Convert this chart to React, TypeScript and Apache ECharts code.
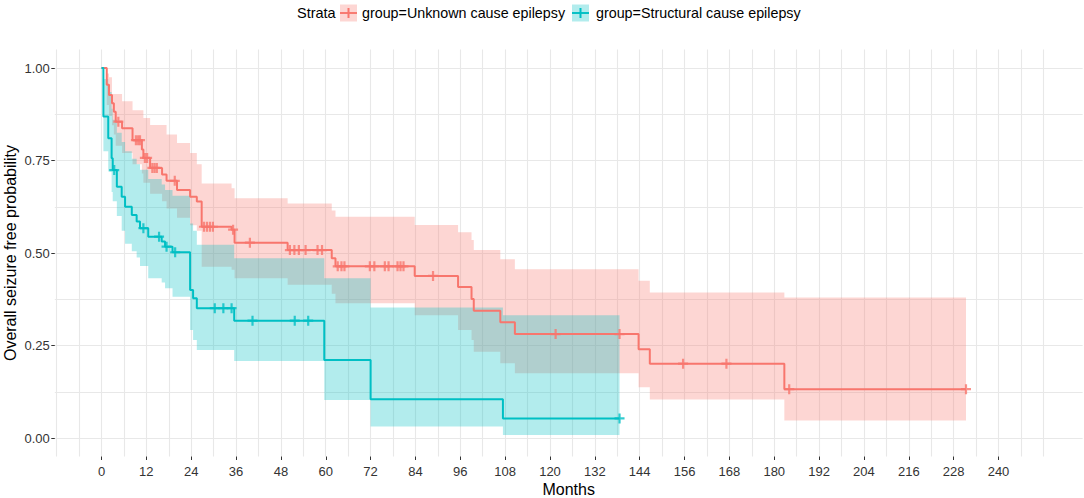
import React, { useEffect, useRef } from 'react';
import * as echarts from 'echarts';

// ---- Data (Kaplan-Meier steps) ----
const redName = 'group=Unknown cause epilepsy';
const tealName = 'group=Structural cause epilepsy';

const redTime = [0, 1.4, 2.0, 2.8, 3.3, 3.8, 5.5, 8.3, 10.8, 11.2, 13.0, 16.2, 17.4, 20.2, 23.7, 25.5, 26.8, 34.8, 35.6, 49.8, 61.6, 62.6, 83.8, 95.4, 99.0, 99.6, 106.7, 110.6, 143.7, 146.7, 182.7, 231.3];
const redSurv = [1, 0.955, 0.927, 0.905, 0.882, 0.855, 0.837, 0.805, 0.78, 0.757, 0.73, 0.712, 0.695, 0.67, 0.652, 0.639, 0.571, 0.563, 0.528, 0.508, 0.486, 0.464, 0.438, 0.408, 0.376, 0.344, 0.313, 0.281, 0.24, 0.201, 0.132, 0.132];
const redUpper = [1, 0.985, 0.975, 0.93, 0.93, 0.93, 0.91, 0.886, 0.886, 0.865, 0.846, 0.846, 0.82, 0.797, 0.77, 0.74, 0.688, 0.675, 0.648, 0.634, 0.615, 0.598, 0.576, 0.556, 0.535, 0.508, 0.483, 0.456, 0.425, 0.393, 0.38, 0.38];
const redLower = [1, 0.9, 0.87, 0.845, 0.82, 0.79, 0.77, 0.74, 0.715, 0.69, 0.66, 0.64, 0.62, 0.595, 0.575, 0.56, 0.463, 0.455, 0.432, 0.414, 0.39, 0.364, 0.332, 0.292, 0.265, 0.233, 0.202, 0.175, 0.137, 0.104, 0.047, 0.047];
const redCensor = [4.5, 9.2, 9.8, 10.3, 11.6, 12.2, 13.6, 14.2, 14.8, 19.6, 27.4, 28.2, 29.0, 29.8, 35.2, 39.7, 50.4, 51.6, 52.8, 54.6, 57.8, 59.0, 63.2, 64.2, 65.0, 71.8, 73.0, 75.8, 76.8, 79.2, 80.0, 80.8, 88.7, 121.5, 138.6, 155.6, 167.2, 184.0, 231.3];

const tealTime = [0, 0.5, 1.8, 2.7, 3.0, 4.1, 5.4, 6.3, 8.1, 9.4, 10.3, 12.5, 16.1, 17.0, 19.0, 23.7, 24.5, 25.5, 35.5, 59.6, 72.0, 107.4, 138.6];
const tealSurv = [1, 0.869, 0.81, 0.756, 0.724, 0.679, 0.652, 0.625, 0.603, 0.585, 0.567, 0.544, 0.531, 0.517, 0.502, 0.4, 0.378, 0.351, 0.317, 0.211, 0.105, 0.053, 0.053];
const tealUpper = [1, 0.97, 0.935, 0.89, 0.86, 0.825, 0.8, 0.775, 0.755, 0.74, 0.725, 0.7, 0.685, 0.67, 0.655, 0.58, 0.56, 0.522, 0.486, 0.432, 0.353, 0.332, 0.332];
const tealLower = [1, 0.775, 0.72, 0.665, 0.64, 0.6, 0.56, 0.525, 0.505, 0.488, 0.465, 0.432, 0.42, 0.405, 0.382, 0.292, 0.265, 0.238, 0.208, 0.103, 0.031, 0.008, 0.008];
const tealCensor = [3.4, 11.2, 15.4, 17.4, 19.7, 30.3, 32.6, 34.8, 40.4, 51.7, 55.3, 138.6];

const xTickMin = 0;
const xTickMax = 240;
const xTickStep = 12;
const yTickStep = 0.25;

const RED = '#F8766D';
const TEAL = '#00BFC4';
const FONT = '"Liberation Sans", Arial, sans-serif';

const PLUS = 'path://M3.9,0H6.1V3.9H10V6.1H6.1V10H3.9V6.1H0V3.9H3.9Z';

function stepAt(times: number[], vals: number[], t: number) {
  let v = vals[0];
  for (let i = 0; i < times.length; i++) {
    if (times[i] <= t) v = vals[i];
    else break;
  }
  return v;
}

function ribbon(name: string, times: number[], lower: number[], upper: number[], fill: string) {
  return {
    type: 'custom',
    name,
    xAxisIndex: 0,
    yAxisIndex: 0,
    silent: true,
    z: 1,
    data: times.map((t, i) => [t, lower[i], upper[i]]),
    encode: { x: 0, y: [1, 2] },
    renderItem: (params: any, api: any) => {
      if (params.dataIndex !== 0) return null;
      const pts: number[][] = [];
      for (let i = 0; i < times.length - 1; i++) {
        pts.push(api.coord([times[i], upper[i]]));
        pts.push(api.coord([times[i + 1], upper[i]]));
      }
      for (let i = times.length - 2; i >= 0; i--) {
        pts.push(api.coord([times[i + 1], lower[i]]));
        pts.push(api.coord([times[i], lower[i]]));
      }
      return { type: 'polygon', shape: { points: pts }, style: { fill } };
    },
  };
}

function survLine(name: string, times: number[], surv: number[], color: string) {
  return {
    type: 'line',
    name,
    xAxisIndex: 0,
    yAxisIndex: 0,
    step: 'end',
    symbol: 'none',
    z: 2,
    silent: true,
    data: times.map((t, i) => [t, surv[i]]),
    lineStyle: { color, width: 2 },
  };
}

function censor(name: string, cens: number[], times: number[], surv: number[], color: string) {
  return {
    type: 'scatter',
    name,
    xAxisIndex: 0,
    yAxisIndex: 0,
    z: 3,
    silent: true,
    symbol: PLUS,
    symbolSize: 10,
    itemStyle: { color },
    data: cens.map((t) => [t, stepAt(times, surv, t)]),
  };
}

const gridColor = '#e8e8e8';

export default function App() {
  const ref = useRef<HTMLDivElement>(null);
  useEffect(() => {
    document.body.style.margin = '0';
    if (!ref.current) return;
    const chart = echarts.init(ref.current, undefined, { renderer: 'svg' });
    const gridL = 54.8;
    const gridR = 1.4;
    const option: any = {
      animation: false,
      backgroundColor: '#ffffff',
      textStyle: { fontFamily: FONT },
      grid: [
        { left: gridL, right: gridR, top: 49.5, bottom: 41.5 },
        { left: gridL, right: gridR, top: 68, bottom: 60 },
        { left: 56.65, right: 40.65, top: 49.5, bottom: 41.5 },
        { left: 101.5, right: 85.5, top: 49.5, bottom: 41.5 },
      ],
      xAxis: [
        { gridIndex: 0, type: 'value', min: -12.5, max: 262.5, show: false },
        { gridIndex: 1, type: 'value', min: 0, max: 1, show: false },
        {
          gridIndex: 2, type: 'value', min: -12, max: 252, interval: 6,
          axisLine: { show: false }, axisTick: { show: false }, axisLabel: { show: false },
          splitLine: { show: true, lineStyle: { color: gridColor, width: 1.1 } },
        },
        {
          gridIndex: 3, type: 'value', min: xTickMin, max: xTickMax, interval: xTickStep,
          axisLine: { show: false },
          axisTick: { show: true, length: 3.5, lineStyle: { color: '#333', width: 1 } },
          axisLabel: { show: true, margin: 8, fontSize: 13, color: '#333', fontFamily: FONT },
          splitLine: { show: false },
        },
      ],
      yAxis: [
        { gridIndex: 0, type: 'value', min: -0.05, max: 1.05, show: false },
        {
          gridIndex: 1, type: 'value', min: 0, max: 1, interval: yTickStep,
          axisLine: { show: false },
          axisTick: { show: true, length: 3.5, lineStyle: { color: '#333', width: 1 } },
          axisLabel: { show: true, margin: 5, fontSize: 13, color: '#333', fontFamily: FONT, formatter: (v: number) => v.toFixed(2) },
          splitLine: { show: true, lineStyle: { color: gridColor, width: 1.1 } },
          minorTick: { show: false, splitNumber: 2 },
          minorSplitLine: { show: true, lineStyle: { color: gridColor, width: 1.1 } },
        },
        { gridIndex: 2, type: 'value', min: 0, max: 1, show: false },
        { gridIndex: 3, type: 'value', min: 0, max: 1, show: false },
      ],
      graphic: [
        {
          type: 'text', x: 568.7, y: 489,
          style: { text: 'Months', fontSize: 16, fill: '#000', fontFamily: FONT, align: 'center', verticalAlign: 'middle' },
        },
        {
          type: 'text', x: 10, y: 253, rotation: Math.PI / 2,
          style: { text: 'Overall seizure free probability', fontSize: 16, fill: '#000', fontFamily: FONT, align: 'center', verticalAlign: 'middle' },
        },
        {
          type: 'group', x: 0, y: 0,
          children: [
            { type: 'text', x: 297, y: 13, style: { text: 'Strata', fontSize: 14.5, fill: '#000', fontFamily: FONT, verticalAlign: 'middle' } },
            { type: 'rect', shape: { x: 340, y: 4.5, width: 17, height: 17 }, style: { fill: 'rgba(248,118,109,0.3)' } },
            { type: 'line', shape: { x1: 340, y1: 13, x2: 357, y2: 13 }, style: { stroke: RED, lineWidth: 1.9 } },
            { type: 'line', shape: { x1: 348.5, y1: 8, x2: 348.5, y2: 18 }, style: { stroke: RED, lineWidth: 2 } },
            { type: 'text', x: 362, y: 13, style: { text: redName, fontSize: 14.3, fill: '#000', fontFamily: FONT, verticalAlign: 'middle' } },
            { type: 'rect', shape: { x: 572, y: 4.5, width: 17, height: 17 }, style: { fill: 'rgba(0,191,196,0.3)' } },
            { type: 'line', shape: { x1: 572, y1: 13, x2: 589, y2: 13 }, style: { stroke: TEAL, lineWidth: 1.9 } },
            { type: 'line', shape: { x1: 580.5, y1: 8, x2: 580.5, y2: 18 }, style: { stroke: TEAL, lineWidth: 2 } },
            { type: 'text', x: 596, y: 13, style: { text: tealName, fontSize: 14.3, fill: '#000', fontFamily: FONT, verticalAlign: 'middle' } },
          ],
        },
      ],
      series: [
        ribbon(redName, redTime, redLower, redUpper, 'rgba(248,118,109,0.3)'),
        ribbon(tealName, tealTime, tealLower, tealUpper, 'rgba(0,191,196,0.3)'),
        survLine(redName, redTime, redSurv, RED),
        survLine(tealName, tealTime, tealSurv, TEAL),
        censor(redName, redCensor, redTime, redSurv, RED),
        censor(tealName, tealCensor, tealTime, tealSurv, TEAL),
      ],
    };
    chart.setOption(option);
    return () => chart.dispose();
  }, []);
  return <div ref={ref} style={{ width: 1084, height: 498 }} />;
}
